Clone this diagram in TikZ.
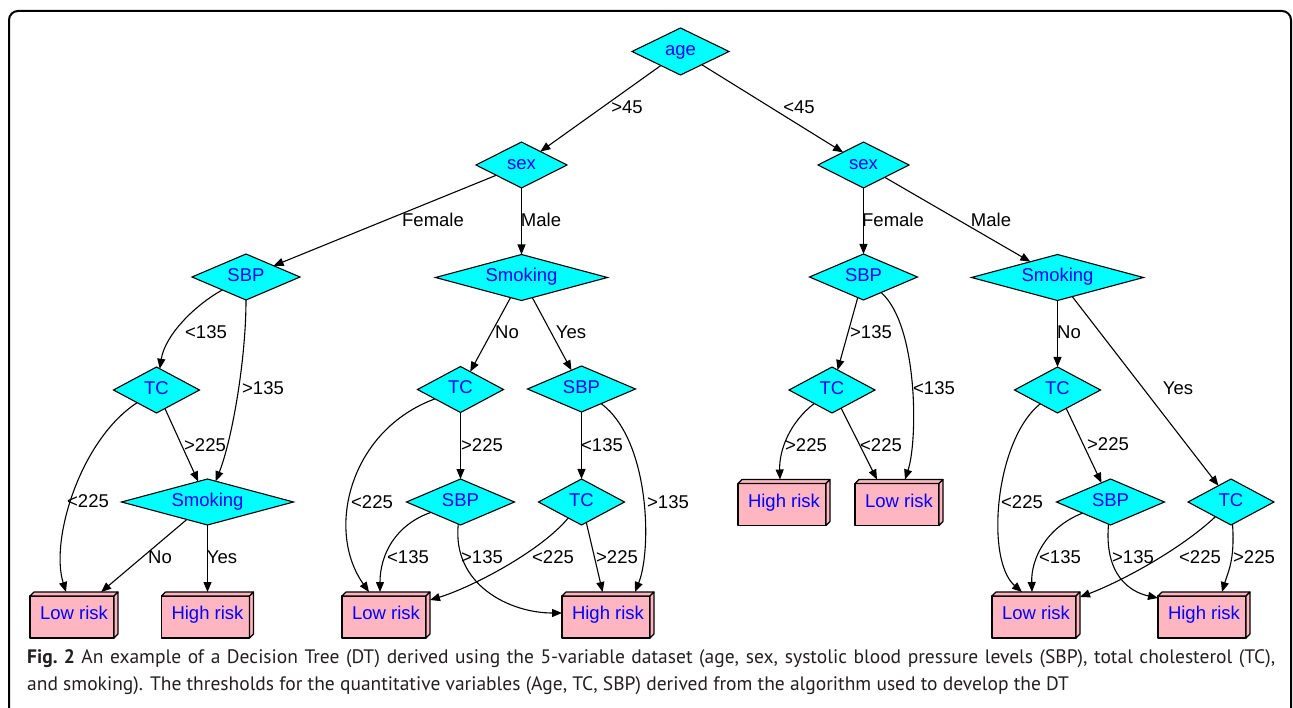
\documentclass[tikz,border=0pt]{standalone}
\usepackage{fontspec}
\setmainfont{Liberation Sans}
\newfontfamily\capfont{PT Sans}
\usetikzlibrary{shapes.geometric,arrows.meta}
\pgfdeclarelayer{background}
\pgfsetlayers{background,main}
\definecolor{diacyan}{RGB}{0,255,255}
\definecolor{nodeblue}{RGB}{0,0,255}
\definecolor{boxpink}{RGB}{255,182,193}
\definecolor{captext}{RGB}{35,31,32}
\newcommand\gfont{\fontsize{18.5}{18.5}\selectfont}
\begin{document}
\begin{tikzpicture}[x=1pt,y=-1pt,
  dia/.style={shape=diamond, draw=black, fill=diacyan, line width=1.1pt, inner sep=0pt, outer sep=0pt,
    text=nodeblue, font=\gfont, text height=13pt, text depth=4pt},
  agedia/.style={dia, minimum width=97pt, minimum height=47pt, aspect=2},
  sexdia/.style={dia, minimum width=91pt, minimum height=46pt, aspect=2},
  smkdia/.style={dia, minimum width=172pt, minimum height=46pt, aspect=3.7},
  sbpdia/.style={dia, minimum width=108pt, minimum height=46pt, aspect=2.3},
  tcdia/.style={dia, minimum width=86pt, minimum height=46pt, aspect=1.9},
  riskbox/.style={shape=rectangle, inner sep=0pt, outer sep=0pt, text=nodeblue, font=\gfont,
    text height=13pt, text depth=4pt, minimum height=46pt},
  lowbox/.style={riskbox, minimum width=88pt},
  highbox/.style={riskbox, minimum width=92pt},
  boxface/.style={draw=black, fill=boxpink, line width=1.1pt, line join=round},
  edge/.style={line width=1.1pt, -{Triangle[length=10pt,width=8pt]}},
  elabel/.style={font=\gfont, inner sep=0pt, text height=13pt, text depth=0pt},
  frame/.style={line width=2pt, rounded corners=9pt}
]
\useasboundingbox (0,0) rectangle (1293,708);
\draw[frame] (9,715) -- (9,11) -- (1291,11) -- (1291,715);

% decision nodes
\node[agedia] (age) at (680.5,51.5) {age};
\node[sexdia] (sexL) at (521.5,165) {sex};
\node[sexdia] (sexR) at (863.5,165) {sex};
\node[sbpdia] (sbpL) at (246,277) {SBP};
\node[smkdia] (smkM) at (521.5,277.5) {Smoking};
\node[sbpdia] (sbpR) at (863.5,277) {SBP};
\node[smkdia] (smkR) at (1057.5,277.5) {Smoking};
\node[tcdia] (tcL) at (156.5,390) {TC};
\node[tcdia] (tcM) at (460.5,389.5) {TC};
\node[sbpdia] (sbpM) at (581.5,389) {SBP};
\node[tcdia] (tcR) at (832,390) {TC};
\node[tcdia] (tcRR) at (1057.5,390) {TC};
\node[smkdia] (smkLB) at (207.5,502) {Smoking};
\node[sbpdia] (sbpMB) at (460.5,502) {SBP};
\node[tcdia] (tcMB) at (581.5,502) {TC};
\node[sbpdia] (sbpRB) at (1110.5,502) {SBP};
\node[tcdia] (tcRB) at (1231,502) {TC};

% leaves
\node[lowbox] (lowLL) at (74,615) {Low risk};
\node[highbox] (highL) at (207.5,615) {High risk};
\node[lowbox] (lowM) at (386,615) {Low risk};
\node[highbox] (highM) at (608,615) {High risk};
\node[highbox] (highR) at (784,502.5) {High risk};
\node[lowbox] (lowR) at (899,502.5) {Low risk};
\node[lowbox] (lowRR) at (1036,615) {Low risk};
\node[highbox] (highRR) at (1204,615) {High risk};

\begin{pgfonlayer}{background}
\foreach \n in {lowLL,highL,lowM,highM,highR,lowR,lowRR,highRR}{
  \draw[boxface] ([shift={(0,4)}]\n.north west) rectangle ([shift={(-4,0)}]\n.south east);
  \draw[boxface] ([shift={(0,4)}]\n.north west) -- ([shift={(4,0)}]\n.north west) -- (\n.north east)
     -- ([shift={(-4,4)}]\n.north east) -- cycle;
  \draw[boxface] (\n.north east) -- ([shift={(0,-4)}]\n.south east) -- ([shift={(-4,0)}]\n.south east)
     -- ([shift={(-4,4)}]\n.north east) -- cycle;
}
\end{pgfonlayer}

% edges
\draw[edge] (age) -- (sexL);
\draw[edge] (age) -- (sexR);
\draw[edge] (sexL) -- (sbpL);
\draw[edge] (sexL) -- (smkM);
\draw[edge] (sexR) -- (sbpR);
\draw[edge] (sexR) -- (smkR);

\draw[edge] (sbpL) .. controls (195,305) and (165,335) .. (tcL);
\draw[edge] (sbpL) .. controls (246,360) and (232,440) .. (smkLB);
\draw[edge] (tcL) .. controls (80,440) and (50,540) .. ([xshift=-8pt]lowLL.north);
\draw[edge] (tcL) -- (smkLB);
\draw[edge] (smkLB) -- (lowLL);
\draw[edge] (smkLB) -- (highL);

\draw[edge] (smkM) -- (tcM);
\draw[edge] (smkM) -- (sbpM);
\draw[edge] (tcM) .. controls (350,430) and (325,530) .. ([xshift=-17pt]lowM.north);
\draw[edge] (tcM) -- (sbpMB);
\draw[edge] (sbpM) -- (tcMB);
\draw[edge] (sbpM) .. controls (650,440) and (652,550) .. ([xshift=27pt]highM.north);
\draw[edge] (sbpMB) .. controls (395,525) and (380,555) .. ([xshift=-6pt]lowM.north);
\draw[edge] (sbpMB) .. controls (452,585) and (510,613) .. ([yshift=2pt]highM.west);
\draw[edge] (tcMB) .. controls (540,552) and (470,588) .. ([yshift=-8pt]lowM.north east);
\draw[edge] (tcMB) -- (highM);

\draw[edge] (sbpR) -- (tcR);
\draw[edge] (sbpR) .. controls (918,325) and (918,440) .. ([xshift=6pt]lowR.north);
\draw[edge] (tcR) .. controls (790,422) and (779,450) .. ([xshift=-4pt]highR.north);
\draw[edge] (tcR) -- ([xshift=-22pt]lowR.north);

\draw[edge] (smkR) -- (tcRR);
\draw[edge] (smkR) -- (tcRB);
\draw[edge] (tcRR) -- (sbpRB);
\draw[edge] (tcRR) .. controls (995,440) and (985,560) .. ([xshift=-14pt]lowRR.north);
\draw[edge] (sbpRB) .. controls (1045,528) and (1031,560) .. ([xshift=-4pt]lowRR.north);
\draw[edge] (sbpRB) .. controls (1104,575) and (1130,592) .. ([yshift=-6pt]highRR.north west);
\draw[edge] (tcRB) .. controls (1180,550) and (1120,582) .. ([yshift=-5pt]lowRR.north east);
\draw[edge] (tcRB) .. controls (1235,560) and (1228,572) .. ([xshift=18pt]highRR.north);

% edge labels
\node[elabel] (l1) at (627,107) {>45};
\node[elabel] (l2) at (799,107) {<45};
\node[elabel] (l3) at (433,220) {Female};
\node[elabel] (l4) at (541,220) {Male};
\node[elabel] (l5) at (893,220) {Female};
\node[elabel] (l6) at (991,220) {Male};
\node[elabel] (l7) at (206,332) {<135};
\node[elabel] (l8) at (263,388) {>135};
\node[elabel] (l9) at (205,445) {>225};
\node[elabel] (l10) at (88,501) {<225};
\node[elabel] (l11) at (160,557) {No};
\node[elabel] (l12) at (222,557) {Yes};
\node[elabel] (l13) at (507,332) {No};
\node[elabel] (l14) at (571,332) {Yes};
\node[elabel] (l15) at (482,445) {>225};
\node[elabel] (l16) at (602,445) {<135};
\node[elabel] (l17) at (372,502) {<225};
\node[elabel] (l18) at (668,502) {>135};
\node[elabel] (l19) at (408,557) {<135};
\node[elabel] (l20) at (482,557) {>135};
\node[elabel] (l21) at (553,557) {<225};
\node[elabel] (l22) at (617,557) {>225};
\node[elabel] (l23) at (871,332) {>135};
\node[elabel] (l24) at (934,388) {<135};
\node[elabel] (l25) at (806,445) {>225};
\node[elabel] (l26) at (881,445) {<225};
\node[elabel] (l27) at (1069,332) {No};
\node[elabel] (l28) at (1178,388) {Yes};
\node[elabel] (l29) at (1108,444) {>225};
\node[elabel] (l30) at (1022,502) {<225};
\node[elabel] (l31) at (1060,557) {<135};
\node[elabel] (l32) at (1133,557) {>135};
\node[elabel] (l33) at (1200,557) {<225};
\node[elabel] (l34) at (1254,557) {>225};

% caption
\node[anchor=base west, inner sep=0pt, text=captext, font=\capfont\fontsize{19.5}{20}\selectfont] (cap1) at (27,663)
  {\makebox[1248pt][s]{\textbf{Fig.~2} An example of a Decision Tree (DT) derived using the 5-variable dataset (age, sex, systolic blood pressure levels (SBP), total cholesterol (TC),}};
\node[anchor=base west, inner sep=0pt, text=captext, font=\capfont\fontsize{19.5}{20}\selectfont] (cap2) at (27,690)
  {and smoking). The thresholds for the quantitative variables (Age, TC, SBP) derived from the algorithm used to develop the DT};
\end{tikzpicture}
\end{document}
